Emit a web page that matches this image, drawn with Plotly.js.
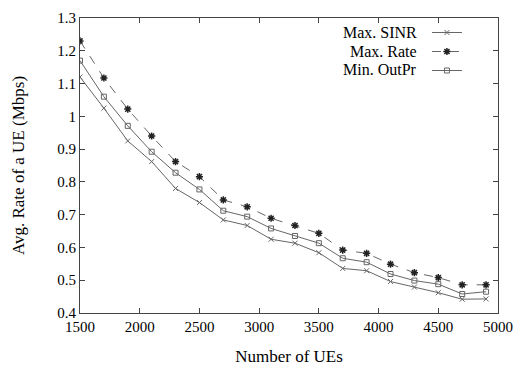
<!DOCTYPE html>
<html>
<head>
<meta charset="utf-8">
<script src="https://cdn.plot.ly/plotly-3.0.1.min.js"></script>
<style>html,body{margin:0;padding:0;background:#fff;}#chart{width:522px;height:367px;}</style>
</head>
<body>
<div id="chart"></div>
<script>
const numUEs = [1500,1700,1900,2100,2300,2500,2700,2900,3100,3300,3500,3700,3900,4100,4300,4500,4700,4900];
const maxSINR = [1.12,1.025,0.925,0.862,0.78,0.737,0.684,0.667,0.625,0.613,0.584,0.536,0.529,0.496,0.479,0.462,0.442,0.443];
const maxRate = [1.23,1.117,1.022,0.94,0.862,0.816,0.745,0.724,0.689,0.667,0.643,0.592,0.582,0.549,0.523,0.508,0.486,0.486];
const minOutPr = [1.17,1.06,0.971,0.892,0.828,0.777,0.712,0.694,0.658,0.635,0.613,0.567,0.555,0.519,0.499,0.488,0.458,0.465];
const seriesNames = ["Max. SINR","Max. Rate","Min. OutPr"];
const xTicks = [1500,2000,2500,3000,3500,4000,4500,5000];
const yTicks = [0.4,0.5,0.6,0.7,0.8,0.9,1,1.1,1.2,1.3];
const yTickText = ["0.4","0.5","0.6","0.7","0.8","0.9","1","1.1","1.2","1.3"];

const font = "Liberation Serif, Times New Roman, serif";
const lineCol = "#666";
const traces = [
  {x:numUEs, y:maxSINR, name:" ", mode:"lines+markers", line:{color:lineCol,width:1},
   marker:{symbol:"x-thin-open", size:5, color:lineCol, line:{width:1,color:lineCol}}},
  {x:numUEs, y:maxRate, name:" ", mode:"lines+markers", line:{color:lineCol,width:1,dash:"dash"},
   marker:{symbol:"asterisk-open", size:6, color:"#222", line:{width:1.5,color:"#222"}}},
  {x:numUEs, y:minOutPr, name:" ", mode:"lines+markers", line:{color:lineCol,width:1},
   marker:{symbol:"square-open", size:5, color:lineCol, line:{width:1,color:lineCol}}}
];
const legendY = [0.9525, 0.888, 0.824];
const annotations = seriesNames.map((n,i)=>({
  xref:"paper", yref:"paper", x:0.81, y:legendY[i], xanchor:"right", yanchor:"middle",
  text:n, showarrow:false, font:{family:font, size:16, color:"#000"}
}));
const layout = {
  width:522, height:367,
  margin:{l:80, r:24, t:18, b:54},
  paper_bgcolor:"#fff", plot_bgcolor:"#fff",
  font:{family:font, size:15, color:"#000"},
  showlegend:true,
  legend:{x:0.83, y:1.0, xanchor:"left", yanchor:"top", bgcolor:"rgba(0,0,0,0)",
          font:{family:font,size:10}, tracegroupgap:0, itemwidth:30},
  xaxis:{range:[1500,5000], tickvals:xTicks, ticks:"inside", ticklen:5, tickcolor:"#444",
         mirror:"ticks", showline:true, linecolor:"#444", linewidth:1, showgrid:false, zeroline:false,
         tickfont:{family:font,size:15}, title:{text:"Number of UEs", font:{family:font,size:17}, standoff:16}},
  yaxis:{range:[0.4,1.3], tickvals:yTicks, ticktext:yTickText, ticks:"inside", ticklen:5, tickcolor:"#444",
         mirror:"ticks", showline:true, linecolor:"#444", linewidth:1, showgrid:false, zeroline:false,
         tickfont:{family:font,size:15}, title:{text:"Avg. Rate of a UE (Mbps)", font:{family:font,size:17}, standoff:28}},
  annotations:annotations
};
Plotly.newPlot("chart", traces, layout, {displayModeBar:false, staticPlot:true});
</script>
</body>
</html>
